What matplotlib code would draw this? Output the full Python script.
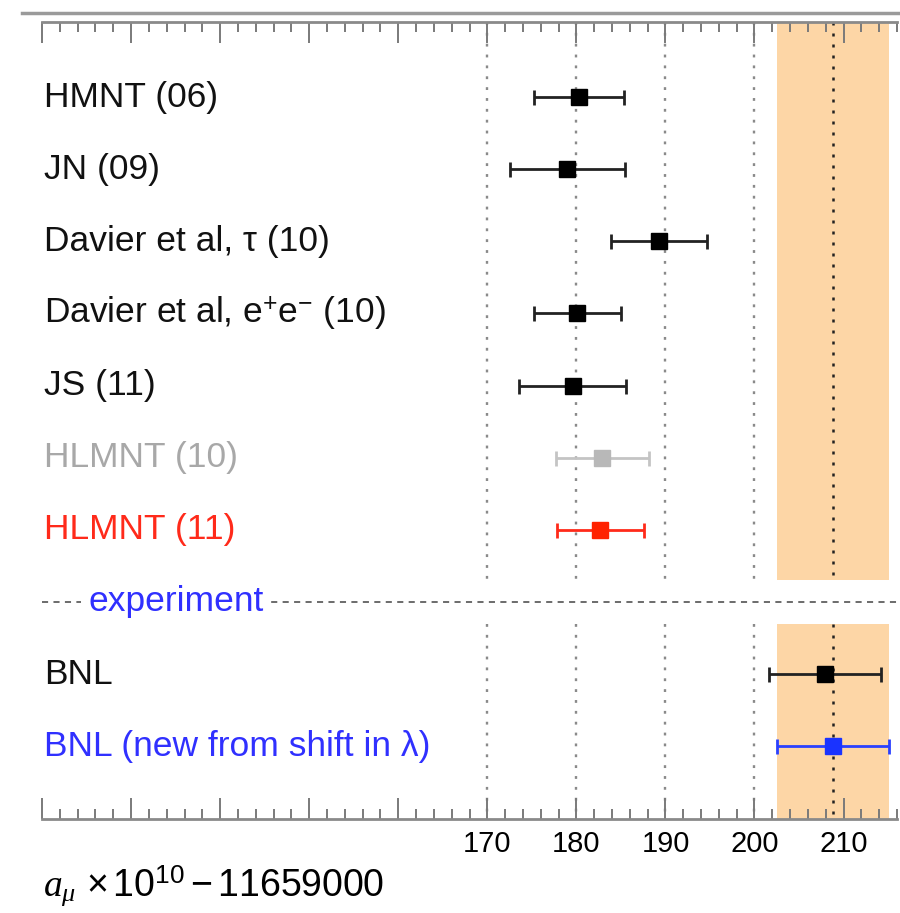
import matplotlib
matplotlib.use('Agg')
import matplotlib.pyplot as plt
from matplotlib.lines import Line2D
from matplotlib.ticker import MultipleLocator

plt.rcParams['font.family'] = ['Liberation Sans', 'DejaVu Sans']
plt.rcParams['mathtext.fontset'] = 'custom'
plt.rcParams['mathtext.rm'] = 'Liberation Sans'
plt.rcParams['mathtext.it'] = 'Liberation Serif:italic'

# evaluations (theory) and experiment, a_mu x 1e10 - 11659000
labels = ['HMNT (06)', 'JN (09)', 'Davier et al, \u03c4 (10)',
          r'Davier et al, e$^{+}$e$^{-}$ (10)', 'JS (11)',
          'HLMNT (10)', 'HLMNT (11)', 'BNL', 'BNL (new from shift in \u03bb)']
centers = [180.3, 179.0, 189.3, 180.1, 179.6, 182.9, 182.7, 207.9, 208.8]
errors = [5.1, 6.5, 5.4, 4.9, 6.0, 5.2, 4.9, 6.3, 6.3]
rows = [0, 1, 2, 3, 4, 5, 6, 8, 9]
sep_row = 7
sep_label = 'experiment'

mark_colors = ['black'] * 5 + ['#b8b8b8', '#ff2200', 'black', '#1a33ff']
bar_colors = ['#222222'] * 5 + ['#c4c4c4', '#ff2a1a', '#222222', '#2a40ff']
text_colors = ['#111111'] * 5 + ['#a8a8a8', '#ff2a1a', '#111111', '#3030ff']

grid_x = [170, 180, 190, 200]
major_ticks = list(range(120, 211, 10))
labeled_ticks = [170, 180, 190, 200, 210]

# band = new BNL value
band_c, band_e = centers[-1], errors[-1]

fig = plt.figure(figsize=(9, 9.13), dpi=100)
ax = fig.add_axes([42 / 900, 1 - 819 / 913, 855 / 900, 797 / 913])
ax.set_xlim(120, 216)
ax.set_ylim(10.01, -1.04)

gap = 0.3
segs = [(-1.04, sep_row - gap), (sep_row + gap, 10.01)]
for y0, y1 in segs:
    ax.fill_betweenx([y0, y1], band_c - band_e, band_c + band_e,
                     color='#fdd6a6', lw=0, zorder=0)
    ax.vlines(grid_x, y0, y1, colors='#8a8a8a', lw=1.7,
              linestyles=(0, (1.2, 3.4)), zorder=1)
    ax.vlines(band_c, y0, y1, colors='#222222', lw=1.8,
              linestyles=(0, (1.2, 3.2)), zorder=1)

# separator
ax.axhline(sep_row, color='#444444', lw=1.1, ls=(0, (4, 3.5)), zorder=1)
ax.text(125.2, sep_row, sep_label, color='#3030ff', fontsize=25.5,
        va='center', ha='left', zorder=2,
        bbox=dict(facecolor='white', edgecolor='none', pad=5))

for lab, c, e, r, mc, bc, tc in zip(labels, centers, errors, rows,
                                    mark_colors, bar_colors, text_colors):
    ax.errorbar(c, r, xerr=e, fmt='s', color=bc, mfc=mc, mec=mc, ms=11,
                capsize=5.4, elinewidth=2.0, capthick=2.0, zorder=3)
    ax.text(0.002, r, lab, color=tc, fontsize=25.5, va='center', ha='left',
            transform=ax.get_yaxis_transform())

ax.set_xticks(major_ticks)
ax.set_xticklabels([str(v) if v in labeled_ticks else '' for v in major_ticks])
ax.xaxis.set_minor_locator(MultipleLocator(2))
ax.set_yticks([])
ax.tick_params(axis='x', which='both', direction='in', top=True, bottom=True,
               color='#7a7a7a', width=1.4, labelsize=21, pad=8)
ax.tick_params(axis='x', which='major', length=15)
ax.tick_params(axis='x', which='minor', length=7.5)
for s in ['left', 'right']:
    ax.spines[s].set_visible(False)
for s in ['top', 'bottom']:
    ax.spines[s].set_color('#8a8a8a')
    ax.spines[s].set_linewidth(2)

fig.add_artist(Line2D([22 / 900, 1], [1 - 13 / 913] * 2, color='#9a9a9a', lw=2.5))

fig.text(43 / 900, 1 - 886 / 913, r'$a_{\mu}$ $\times\,10^{10} - 11659000$',
         fontsize=27, va='center', ha='left')

fig.savefig('out.png', dpi=100)
